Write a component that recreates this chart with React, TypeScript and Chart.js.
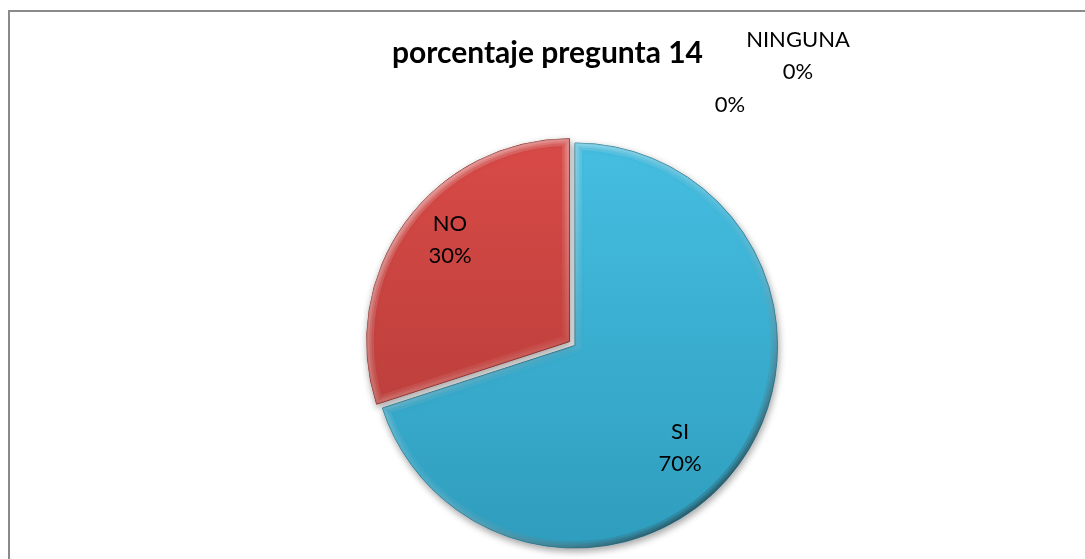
import React, { useEffect, useRef } from "react";
import { Chart, registerables } from "chart.js";

Chart.register(...registerables);

const titleText = "porcentaje pregunta 14";
const categories = ["SI", "NO", "", "NINGUNA"];
const values = [70, 30, 0, 0];

// styling
const W = 1085;
const H = 559;
const PIE_RADIUS = 202.5;
const topColors = ["#45BEE1", "#D84A47"];
const bottomColors = ["#2F9DBD", "#AF3A36"];
const edgeColors = ["#237F9B", "#8E2B28"];
const sliceOffsets = [0, 27, 0, 0];
// label anchor offsets from pie centre (px)
const labelOffsets: [number, number][] = [
  [105, 102],
  [-125, -106],
  [155, -241],
  [223, -290],
];
const LABEL_FONT = "22px Lato";
const LINE_GAP = 32;

function percentText(v: number, total: number) {
  return Math.round((v / total) * 100) + "%";
}

export default function App() {
  const ref = useRef<HTMLCanvasElement | null>(null);

  useEffect(() => {
    const canvas = ref.current;
    if (!canvas) return;
    const total = values.reduce((a, b) => a + b, 0);

    const framePlugin = {
      id: "frame",
      beforeDraw(chart: any) {
        const c = chart.ctx;
        c.save();
        c.fillStyle = "#ffffff";
        c.fillRect(0, 0, chart.width, chart.height);
        c.strokeStyle = "#8a8a8a";
        c.lineWidth = 2;
        c.strokeRect(9, 11, chart.width + 50, chart.height + 50);
        c.restore();
      },
    };

    const shadowPlugin = {
      id: "shadow",
      beforeDatasetsDraw(chart: any) {
        const c = chart.ctx;
        c.save();
        c.shadowColor = "rgba(0,0,0,0.35)";
        c.shadowBlur = 7;
        c.shadowOffsetX = 1;
        c.shadowOffsetY = 3;
      },
      afterDatasetsDraw(chart: any) {
        chart.ctx.restore();
      },
    };

    const bevelPlugin = {
      id: "bevel",
      afterDatasetsDraw(chart: any) {
        const c = chart.ctx;
        const meta = chart.getDatasetMeta(0);
        meta.data.forEach((arc: any, i: number) => {
          const p = arc.getProps(["x", "y", "startAngle", "endAngle", "outerRadius"]);
          const circ = p.endAngle - p.startAngle;
          if (circ <= 0) return;
          const half = (p.startAngle + p.endAngle) / 2;
          const off = (sliceOffsets[i] || 0) / 4;
          const fix = 1 - Math.sin(Math.min(Math.PI, circ));
          const t = off * (1 + fix);
          const ox = p.x + Math.cos(half) * t;
          const oy = p.y + Math.sin(half) * t;
          const R = p.outerRadius;
          const path = () => {
            c.beginPath();
            c.moveTo(ox, oy);
            c.arc(ox, oy, R, p.startAngle, p.endAngle);
            c.closePath();
          };
          c.save();
          path();
          c.clip();
          const g = c.createLinearGradient(ox - R, oy - R, ox + R * 0.6, oy + R);
          g.addColorStop(0, "rgba(255,255,255,0.22)");
          g.addColorStop(0.55, "rgba(255,255,255,0.04)");
          g.addColorStop(1, "rgba(0,0,0,0.22)");
          c.strokeStyle = g;
          c.lineJoin = "round";
          [14, 9, 5].forEach((lw) => {
            c.lineWidth = lw;
            path();
            c.stroke();
          });
          c.restore();
        });
      },
    };

    const labelPlugin = {
      id: "labels",
      afterDraw(chart: any) {
        const c = chart.ctx;
        const meta = chart.getDatasetMeta(0);
        const arc0 = meta.data[0];
        const cx = arc0.x;
        const cy = arc0.y;
        c.save();
        c.fillStyle = "#000000";
        c.font = "bold 30px Lato";
        c.textAlign = "center";
        c.textBaseline = "alphabetic";
        c.fillText(titleText, 547.5, 63);
        c.textBaseline = "middle";
        c.font = LABEL_FONT;
        categories.forEach((cat, i) => {
          const [dx, dy] = labelOffsets[i];
          const x = cx + dx;
          const y = cy + dy;
          const pct = percentText(values[i], total);
          if (cat) {
            c.fillText(cat, x, y - LINE_GAP / 2);
            c.fillText(pct, x, y + LINE_GAP / 2);
          } else {
            c.fillText(pct, x, y);
          }
        });
        c.restore();
      },
    };

    const chart = new Chart(canvas, {
      type: "pie",
      data: {
        labels: categories,
        datasets: [
          {
            data: values,
            backgroundColor: (ctx: any) => {
              const i = ctx.dataIndex % 2;
              const chart = ctx.chart;
              const area = chart.chartArea;
              if (!area) return topColors[i];
              const midY = (area.top + area.bottom) / 2;
              const g = chart.ctx.createLinearGradient(0, midY - PIE_RADIUS, 0, midY + PIE_RADIUS);
              g.addColorStop(0, topColors[i]);
              g.addColorStop(1, bottomColors[i]);
              return g;
            },
            borderColor: categories.map((_, i) => edgeColors[i % 2]),
            borderWidth: 1,
            offset: sliceOffsets,
          },
        ],
      },
      options: {
        responsive: false,
        animation: false,
        radius: PIE_RADIUS,
        rotation: 0,
        layout: { padding: { top: 140, bottom: 8, left: 70, right: 5 } },
        plugins: {
          legend: { display: false },
          title: { display: false },
          tooltip: { enabled: false },
        },
      },
      plugins: [framePlugin, shadowPlugin, bevelPlugin, labelPlugin],
    } as any);

    return () => chart.destroy();
  }, []);

  return (
    <div style={{ position: "fixed", left: 0, top: 0, width: W, height: H }}>
      <canvas ref={ref} width={W} height={H} style={{ display: "block" }} />
    </div>
  );
}
